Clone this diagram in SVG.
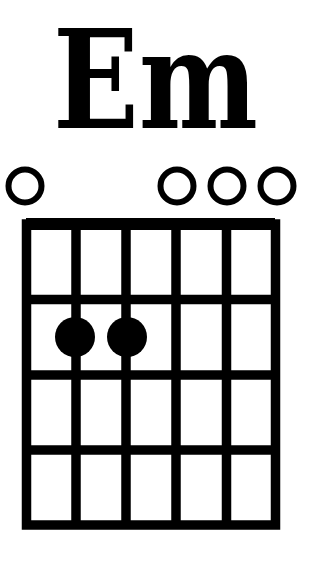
<svg xmlns="http://www.w3.org/2000/svg" width="320" height="566" viewBox="0 0 320 566">
<style>
.t{font-family:"DejaVu Serif","Liberation Serif",serif;font-weight:bold;font-size:137px;fill:#000}
.ln{stroke:#000;stroke-width:9.5;fill:none}
.open{fill:none;stroke:#000;stroke-width:6}
.dot{fill:#000}
</style>
<rect width="320" height="566" fill="#fff"/>
<g id="title"><text class="t" x="155.5" y="127.5" text-anchor="middle" textLength="205" lengthAdjust="spacingAndGlyphs">Em</text></g>
<g id="grid">
<rect class="ln" x="26.5" y="224" width="249" height="301"/>
<line class="ln" x1="26" y1="224" x2="275" y2="224" style="stroke-width:12"/>
<line class="ln" x1="76" y1="224" x2="76" y2="525"/>
<line class="ln" x1="126" y1="224" x2="126" y2="525"/>
<line class="ln" x1="176" y1="224" x2="176" y2="525"/>
<line class="ln" x1="226.5" y1="224" x2="226.5" y2="525"/>
<line class="ln" x1="26" y1="299.5" x2="275" y2="299.5"/>
<line class="ln" x1="26" y1="375" x2="275" y2="375"/>
<line class="ln" x1="26" y1="450" x2="275" y2="450"/>
</g>
<g id="open-strings">
<circle class="open" cx="25" cy="186" r="16.5"/>
<circle class="open" cx="177" cy="186" r="16.5"/>
<circle class="open" cx="227" cy="186" r="16.5"/>
<circle class="open" cx="277" cy="186" r="16.5"/>
</g>
<g id="fingers">
<circle class="dot" cx="75" cy="337" r="20"/>
<circle class="dot" cx="127" cy="337" r="20"/>
</g>
</svg>
